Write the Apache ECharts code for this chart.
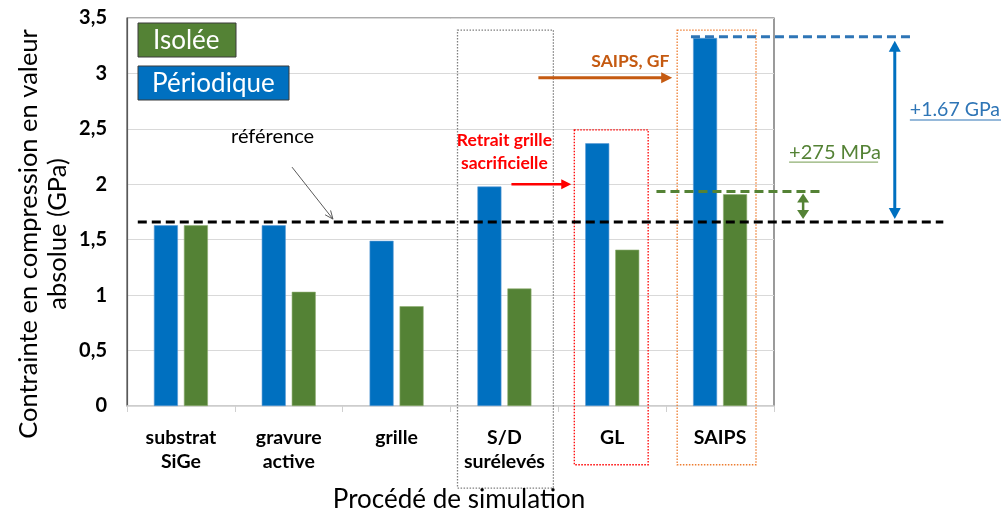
<!DOCTYPE html>
<html>
<head>
<meta charset="utf-8">
<script src="https://cdn.jsdelivr.net/npm/echarts@6/dist/echarts.min.js"></script>
<style>
  html, body { margin: 0; padding: 0; background: #ffffff; }
  #chart { width: 1001px; height: 520px; }
</style>
</head>
<body>
<div id="chart"></div>
<script>
// Process steps along the x axis
const categories = ['substrat\nSiGe', 'gravure\nactive', 'grille', 'S/D\nsurélevés', 'GL', 'SAIPS'];
// Absolute compressive stress (GPa), periodic and isolated structures
const periodique = [1.63, 1.63, 1.49, 1.98, 2.37, 3.32];
const isolee = [1.63, 1.03, 0.90, 1.06, 1.41, 1.91];
// Y axis ticks
const yMin = 0, yMax = 3.5, yStep = 0.5;
// Reference stress level and gains reached with SAIPS
const reference = 1.66;
const gainPeriodique = 1.67;   // GPa
const gainIsolee = 0.275;      // GPa (275 MPa)

const BLUE = '#0070C0';
const GREEN = '#548235';
const ORANGE = '#C55A11';
const RED = '#FF0000';
const FONT = 'Lato, "Open Sans", sans-serif';

const chart = echarts.init(document.getElementById('chart'), null, { renderer: 'canvas' });

chart.setOption({
  animation: false,
  grid: {
    left: 127, top: 18, right: 227, bottom: 114,
    show: true, borderColor: '#595959', borderWidth: 1.2, backgroundColor: 'transparent'
  },
  xAxis: {
    type: 'category',
    data: categories,
    axisLine: { lineStyle: { color: '#d9d9d9', width: 1.5 } },
    axisTick: { show: true, length: 6, lineStyle: { color: '#d0d0d0' } },
    axisLabel: {
      color: '#000', fontFamily: FONT, fontWeight: 'bold', fontSize: 19.5,
      lineHeight: 24, margin: 20, interval: 0
    }
  },
  yAxis: {
    type: 'value',
    min: yMin, max: yMax, interval: yStep,
    axisLine: { show: true, lineStyle: { color: '#595959', width: 1.2 } },
    axisTick: { show: false },
    splitLine: { lineStyle: { color: '#d9d9d9', width: 1 } },
    axisLabel: {
      color: '#000', fontFamily: FONT, fontWeight: 'bold', fontSize: 20, margin: 20,
      formatter: v => String(v).replace('.', ',')
    }
  },
  series: [
    {
      name: 'Périodique', type: 'bar', data: periodique,
      barWidth: 24, barGap: '25%',
      itemStyle: { color: BLUE, borderColor: '#5b9bd5', borderWidth: 0.6 }
    },
    {
      name: 'Isolée', type: 'bar', data: isolee,
      barWidth: 24,
      itemStyle: { color: GREEN, borderColor: '#8faf72', borderWidth: 0.6 }
    }
  ]
});

// Pixel helpers based on the chart's own axes
const c0 = chart.convertToPixel({ gridIndex: 0 }, [0, 0]);
const c1 = chart.convertToPixel({ gridIndex: 0 }, [1, 0]);
const band = c1[0] - c0[0];
const X = i => c0[0] + i * band;                       // category units (fractional allowed)
const Y = v => chart.convertToPixel({ yAxisIndex: 0 }, v);

function hLine(x1, x2, y, color, width, dash) {
  return { type: 'line', shape: { x1, y1: y, x2, y2: y }, z: 20,
    style: { stroke: color, lineWidth: width, lineDash: dash || null } };
}
function hArrow(x1, x2, y, color, width, hl, hw) {
  return [
    { type: 'line', shape: { x1, y1: y, x2: x2 - hl + 1, y2: y }, z: 20, style: { stroke: color, lineWidth: width } },
    { type: 'polygon', shape: { points: [[x2, y], [x2 - hl, y - hw], [x2 - hl, y + hw]] }, z: 20, style: { fill: color } }
  ];
}
function vDoubleArrow(x, yTop, yBot, color, width, hl, hw) {
  return [
    { type: 'line', shape: { x1: x, y1: yTop + hl - 1, x2: x, y2: yBot - hl + 1 }, z: 20, style: { stroke: color, lineWidth: width } },
    { type: 'polygon', shape: { points: [[x, yTop], [x - hw, yTop + hl], [x + hw, yTop + hl]] }, z: 20, style: { fill: color } },
    { type: 'polygon', shape: { points: [[x, yBot], [x - hw, yBot - hl], [x + hw, yBot - hl]] }, z: 20, style: { fill: color } }
  ];
}
function dottedBox(i1, i2, vTop, vBot, color) {
  const x1 = X(i1), x2 = X(i2), y1 = Y(vTop), y2 = Y(vBot);
  return { type: 'rect', shape: { x: x1, y: y1, width: x2 - x1, height: y2 - y1 }, z: 15,
    style: { fill: null, stroke: color, lineWidth: 1.3, lineDash: [1.5, 1.5] } };
}
function label(x, y, text, opts) {
  return { type: 'text', x, y, z: 25,
    style: Object.assign({ text, fontFamily: FONT, textAlign: 'left', textVerticalAlign: 'middle' }, opts) };
}

const topP = reference + gainPeriodique;
const topI = reference + gainIsolee;
const g = [];

// Legend boxes
g.push({ type: 'rect', shape: { x: 138, y: 23, width: 98, height: 34 }, z: 30,
  style: { fill: GREEN, stroke: '#3a3a3a', lineWidth: 1 } });
g.push({ type: 'rect', shape: { x: 138, y: 66, width: 151, height: 34 }, z: 30,
  style: { fill: BLUE, stroke: '#3a3a3a', lineWidth: 1 } });
const legIso = label(153, 40.5, 'Isolée', { fill: '#fff', fontSize: 26 });
const legPer = label(152, 83.5, 'Périodique', { fill: '#fff', fontSize: 26 });
legIso.z = 31; legPer.z = 31;
g.push(legIso, legPer);

// Axis titles
g.push({ type: 'text', x: 43, y: 234, rotation: Math.PI / 2, z: 25,
  style: { text: 'Contrainte en compression en valeur\nabsolue (GPa)', fontFamily: FONT, fontSize: 25.5,
    lineHeight: 29, fill: '#000', textAlign: 'center', textVerticalAlign: 'middle' } });
g.push({ type: 'text', x: 459, y: 500, z: 25,
  style: { text: 'Procédé de simulation', fontFamily: FONT, fontSize: 26, fill: '#000',
    textAlign: 'center', textVerticalAlign: 'middle' } });

// Reference level
g.push(hLine(X(-0.40), X(7.07), Y(reference), '#000', 3, [9, 5]));
g.push(label(X(0.85), Y(2.43), 'référence', { fill: '#000', fontSize: 20, textAlign: 'center' }));
{
  const ax1 = X(1.03), ay1 = Y(2.155), ax2 = X(1.41), ay2 = Y(1.686);
  g.push({ type: 'line', shape: { x1: ax1, y1: ay1, x2: ax2, y2: ay2 }, z: 20, style: { stroke: '#595959', lineWidth: 1 } });
  const ang = Math.atan2(ay2 - ay1, ax2 - ax1);
  const L = 9, a = 0.4;
  g.push({ type: 'polyline', z: 20, shape: { points: [
    [ax2 - L * Math.cos(ang - a), ay2 - L * Math.sin(ang - a)], [ax2, ay2],
    [ax2 - L * Math.cos(ang + a), ay2 - L * Math.sin(ang + a)] ] },
    style: { stroke: '#595959', lineWidth: 1, fill: null } });
}

// Highlight boxes around the process steps
g.push(dottedBox(2.565, 3.454, 3.39, -0.74, '#7f7f7f'));
g.push(dottedBox(3.648, 4.333, 2.49, -0.53, RED));
g.push(dottedBox(4.602, 5.333, 3.39, -0.53, '#ED7D31'));

// Process change annotations
g.push(label(X(3.0), Y(2.40), 'Retrait grille', { fill: RED, fontSize: 17.5, fontWeight: 'bold', textAlign: 'center' }));
g.push(label(X(3.0), Y(2.19), 'sacrificielle', { fill: RED, fontSize: 17.5, fontWeight: 'bold', textAlign: 'center' }));
g.push(...hArrow(X(3.065), X(3.62), Y(2.0), RED, 2.5, 10, 5));
g.push(label(X(4.53), Y(3.11), 'SAIPS, GF', { fill: ORANGE, fontSize: 17.5, fontWeight: 'bold', textAlign: 'right' }));
g.push(...hArrow(X(3.315), X(4.556), Y(2.96), ORANGE, 3, 11, 5.5));

// Gains relative to the reference
g.push(hLine(X(4.73), X(6.78), Y(topP), '#2E75B6', 3, [9, 5]));
g.push(hLine(X(4.41), X(5.935), Y(topI), '#548235', 3, [9, 5]));
g.push(...vDoubleArrow(X(6.62), Y(topP) + 4, Y(reference) - 3, BLUE, 3, 11, 6));
g.push(...vDoubleArrow(X(5.77), Y(topI) + 2, Y(reference) - 3, GREEN, 2.5, 9, 6));
g.push(label(X(6.76), Y(2.67), '+1.67 GPa', { fill: '#2E75B6', fontSize: 19.5 }));
g.push(hLine(X(6.76), X(6.76) + 92, Y(2.67) + 10, '#2E75B6', 1.2));
g.push(label(X(5.64), Y(2.29), '+275 MPa', { fill: '#548235', fontSize: 20 }));
g.push(hLine(X(5.64), X(5.64) + 89, Y(2.29) + 10, '#8faf72', 1.2));

chart.setOption({ graphic: g });
</script>
</body>
</html>
